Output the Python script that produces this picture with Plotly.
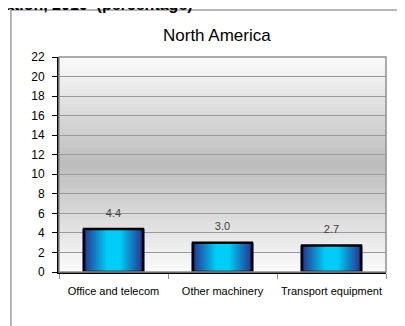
import numpy as np
import plotly.graph_objects as go

# dati
categorie = ["Office and telecom", "Other machinery", "Transport equipment"]
valori = [4.4, 3.0, 2.7]
tick_y = list(range(0, 23, 2))

FONT = "Liberation Sans, Arial"

fig = go.Figure()

# barre con sfumatura orizzontale: rettangoli sovrapposti sempre più stretti
n = 14
scuro = np.array([40, 50, 140])
chiaro = np.array([0, 205, 250])
for i in range(n):
    t = min(1.0, i / (n - 1) * 1.25)
    c = scuro + (chiaro - scuro) * t
    fig.add_trace(go.Bar(
        x=categorie, y=valori, width=0.54 * (1 - i / (n - 1)) + 0.03,
        marker=dict(color=f"rgb({int(c[0])},{int(c[1])},{int(c[2])})", line=dict(width=0)),
        hoverinfo="skip", showlegend=False))

# contorno nero
fig.add_trace(go.Bar(
    x=categorie, y=valori, width=0.54,
    marker=dict(color="rgba(0,0,0,0)", line=dict(color="black", width=2.5)),
    hoverinfo="skip", showlegend=False))

# etichette dei valori
fig.add_trace(go.Scatter(
    x=categorie, y=valori, mode="markers+text",
    text=[f"{v:.1f}" for v in valori], textposition="top center",
    textfont=dict(family=FONT, size=11, color="#404040"),
    marker=dict(size=14, color="rgba(0,0,0,0)"),
    hoverinfo="skip", showlegend=False, cliponaxis=False))

# sfondo sfumato dell'area del grafico (chiaro in alto e in basso, scuro al centro)
strisce = 60
for i in range(strisce):
    f = (i + 0.5) / strisce
    g = int(188 + (252 - 188) * abs(f - 0.5) / 0.5)
    fig.add_shape(type="rect", xref="x domain", yref="y domain",
                  x0=0, x1=1, y0=i / strisce, y1=(i + 1) / strisce + 0.002,
                  fillcolor=f"rgb({g},{g},{g})", line=dict(width=0), layer="below")

# cornice esterna
fig.add_shape(type="rect", xref="paper", yref="paper",
              x0=-0.147, x1=1.2, y0=-0.6, y1=1.219,
              line=dict(color="#a0a0a0", width=1.5), fillcolor="rgba(0,0,0,0)")

# bordo dell'area del grafico
fig.add_shape(type="rect", xref="paper", yref="paper", x0=0, x1=1, y0=0, y1=1,
              line=dict(color="#909090", width=1.5))

fig.add_annotation(text="North America", xref="paper", yref="paper",
                   x=0.484, y=1.102, showarrow=False, yanchor="middle",
                   font=dict(family=FONT, size=17, color="black"))

fig.add_annotation(text="<b>ation, 2010  (percentage)</b>", xref="paper", yref="paper",
                   x=0.416, xanchor="right", y=1.245, yanchor="middle", showarrow=False,
                   font=dict(family=FONT, size=16, color="black"))

fig.update_layout(
    width=397, height=318,
    margin=dict(l=51, r=19, t=49, b=54),
    paper_bgcolor="white", plot_bgcolor="rgba(0,0,0,0)",
    barmode="overlay", bargap=0.46,
    font=dict(family=FONT, size=12, color="black"),
)
fig.update_xaxes(showline=True, linecolor="black", linewidth=2, tickangle=0, automargin=False,
                 ticks="outside", tickson="boundaries", ticklen=5, tickcolor="#909090",
                 ticklabelstandoff=8,
                 tickfont=dict(family=FONT, size=11, color="black"))
fig.update_yaxes(range=[0, 22], tickvals=tick_y, showline=True, linecolor="black", linewidth=2,
                 ticks="outside", ticklen=5, tickcolor="black", automargin=False,
                 ticklabelstandoff=5,
                 showgrid=True, gridcolor="#999999", gridwidth=1, zeroline=False,
                 tickfont=dict(family=FONT, size=12, color="black"))

fig.write_html("out.html")
